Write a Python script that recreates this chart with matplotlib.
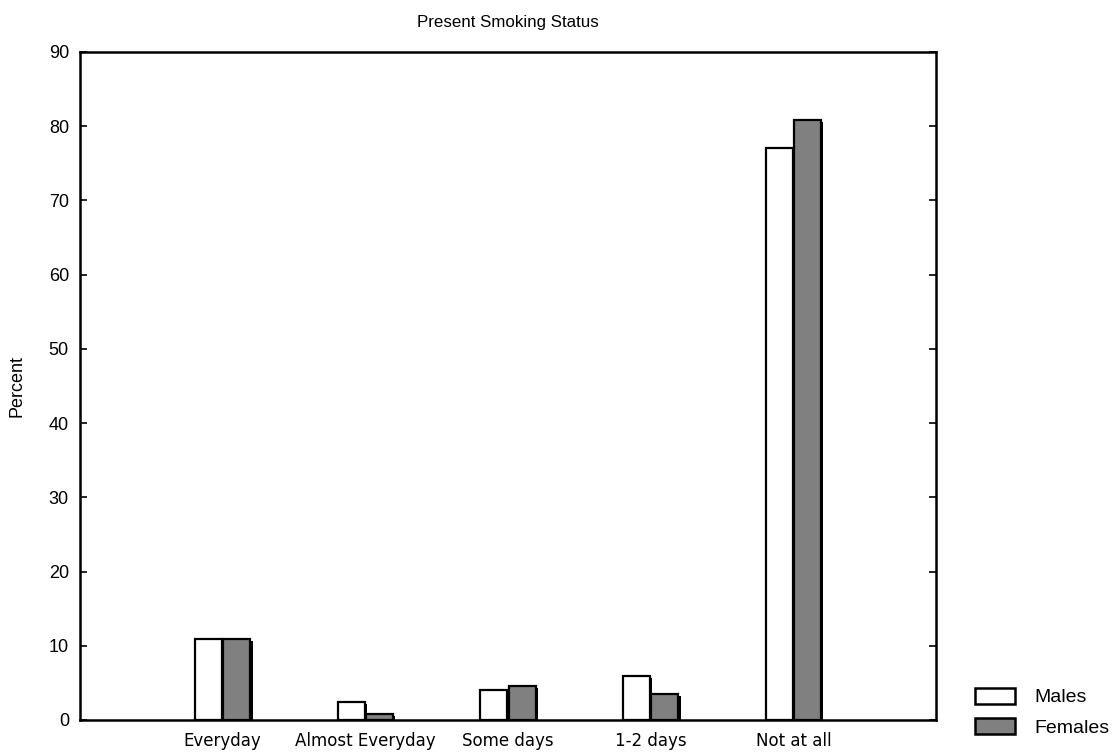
import matplotlib
matplotlib.use("Agg")
import matplotlib.pyplot as plt
import matplotlib.patheffects as pe
from matplotlib.patches import Patch
import numpy as np

categories = ["Everyday", "Almost Everyday", "Some days", "1-2 days", "Not at all"]
males = [10.9, 2.4, 4.1, 5.9, 77.1]
females = [10.9, 0.8, 4.6, 3.5, 80.8]
yticks = list(range(0, 100, 10))

plt.rcParams["font.family"] = ["Liberation Sans", "DejaVu Sans"]

fig = plt.figure(figsize=(11.13, 7.52), dpi=100)
ax = fig.add_axes([80 / 1113, 32 / 752, 856 / 1113, 668 / 752])

x = np.arange(1, len(categories) + 1)
width = 0.19
gap = 0.005
# thin black drop shadow like the original bars
shadow = [pe.SimplePatchShadow(offset=(1.5, -1.5), shadow_rgbFace="black", alpha=1.0), pe.Normal()]

ax.bar(x - width / 2 - gap, males, width, color="white", edgecolor="black",
       linewidth=1.6, path_effects=shadow, zorder=3)
ax.bar(x + width / 2 + gap, females, width, color="#808080", edgecolor="black",
       linewidth=1.6, path_effects=shadow, zorder=3)

ax.set_xlim(0, 6)
ax.set_ylim(0, 90)
ax.set_yticks(yticks)
ax.set_xticks(x)
ax.set_xticklabels(categories, fontsize=12, family=["DejaVu Sans"])
ax.tick_params(axis="x", length=0, pad=9)
ax.tick_params(axis="y", direction="in", length=5, width=1.2, right=True,
               labelsize=13, pad=8)
for s in ax.spines.values():
    s.set_linewidth(1.8)

ax.set_title("Present Smoking Status", fontsize=12.2, pad=18)
ax.set_ylabel("Percent", fontsize=13, labelpad=17)

handles = [
    Patch(facecolor="white", edgecolor="black", linewidth=1.8, label="Males"),
    Patch(facecolor="#808080", edgecolor="black", linewidth=1.8, label="Females"),
]
fig.legend(handles=handles, loc="upper left", bbox_to_anchor=(975 / 1113, 1 - 688 / 752),
           frameon=False, fontsize=14, handlelength=2.06, handleheight=0.85,
           handletextpad=1.0, labelspacing=0.6, borderpad=0, borderaxespad=0)

fig.savefig("out.png", dpi=100)
